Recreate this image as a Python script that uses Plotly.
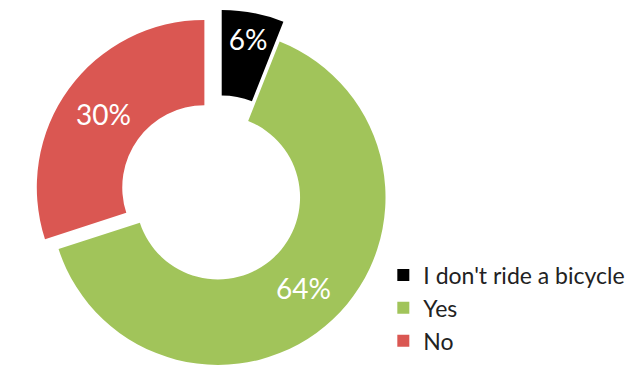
import plotly.graph_objects as go

# Survey answers: share of respondents
labels = ["I don't ride a bicycle", "Yes", "No"]
values = [6, 64, 30]
colors = ["#000000", "#A1C45A", "#DA5752"]
pulls = [0.12, 0.0, 0.1]

fig = go.Figure(
    go.Pie(
        labels=labels,
        values=values,
        sort=False,
        direction="clockwise",
        rotation=0,
        hole=0.49,
        pull=pulls,
        marker=dict(colors=colors, line=dict(width=0)),
        texttemplate="%{value}%",
        textposition="inside",
        insidetextorientation="horizontal",
        textfont=dict(family="Lato, Noto Sans, sans-serif", size=28, color="white"),
        domain=dict(x=[0.0, 0.68], y=[0.0, 0.975]),
        hoverinfo="label+percent",
    )
)

fig.update_layout(
    width=641,
    height=385,
    margin=dict(l=0, r=0, t=0, b=0),
    paper_bgcolor="white",
    plot_bgcolor="white",
    showlegend=True,
    legend=dict(
        x=0.598,
        y=0.2,
        xanchor="left",
        yanchor="middle",
        font=dict(family="Lato, Noto Sans, sans-serif", size=23, color="#222222"),
        bgcolor="rgba(0,0,0,0)",
    ),
)

fig.write_html("out.html")
